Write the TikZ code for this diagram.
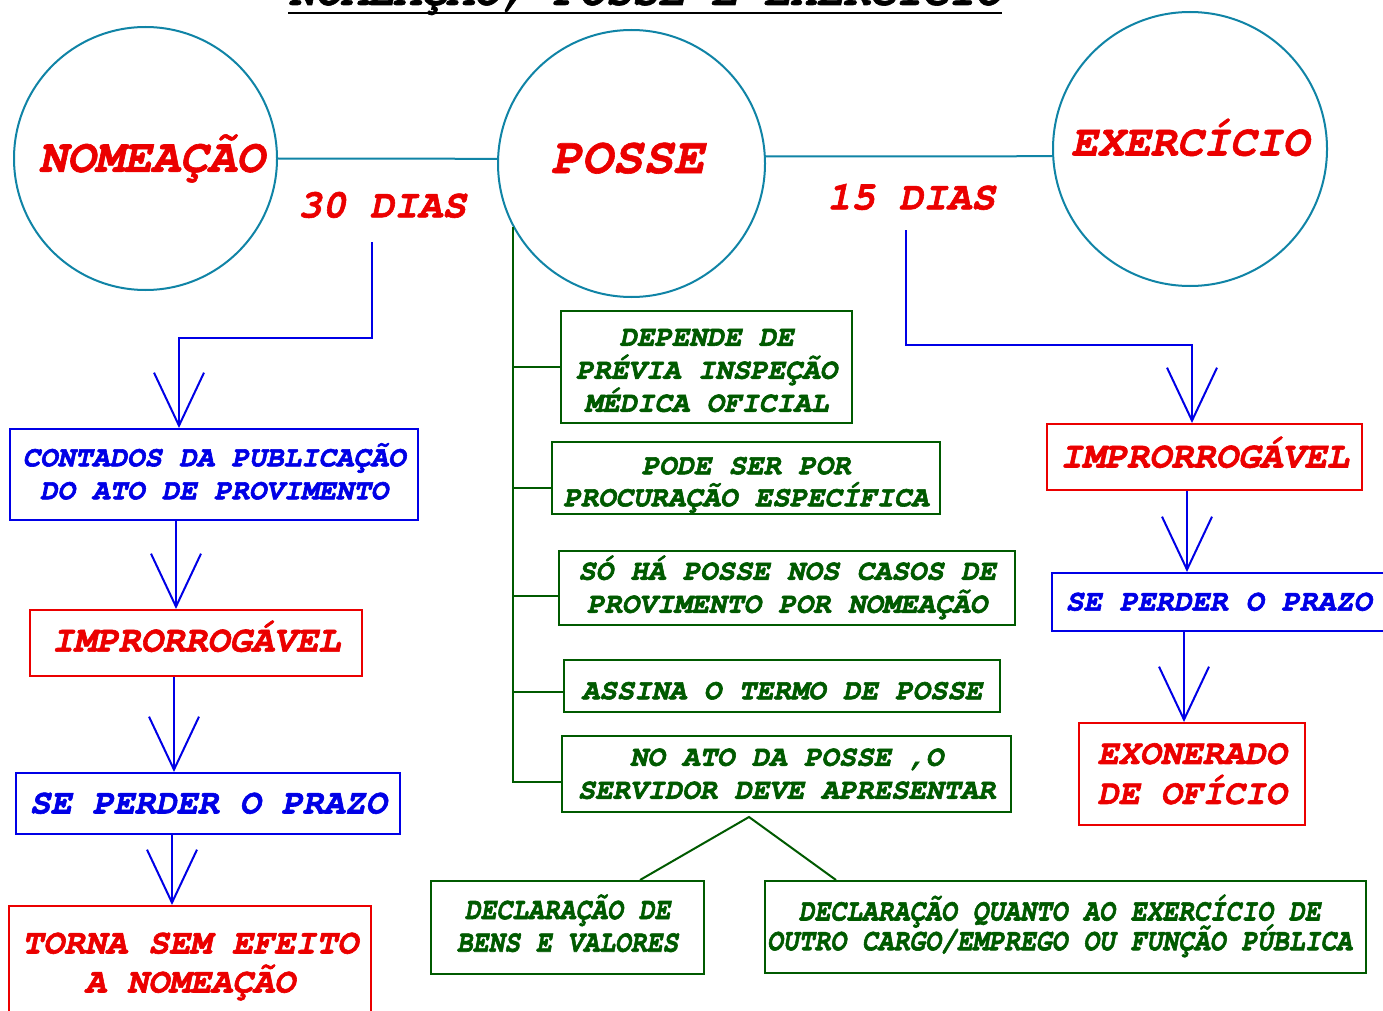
\documentclass[tikz,border=0pt]{standalone}
\usepackage[T1]{fontenc}
\usetikzlibrary{arrows.meta}
\definecolor{teal1}{RGB}{16,132,166}
\definecolor{red1}{RGB}{235,0,0}
\definecolor{blue1}{RGB}{0,0,230}
\definecolor{green1}{RGB}{0,90,0}
\newcommand\courbi{\fontencoding{T1}\fontfamily{pcr}\fontseries{b}\fontshape{sl}}
\newcommand\st{\rule[-0.26em]{0pt}{1.09em}}
\newcommand\stx[1]{\rule[-0.26em]{0pt}{\dimexpr1.09em+#1\relax}}
\newcommand\rs[2]{\raisebox{#1}[0.83em][0.26em]{#2}}
\tikzset{
  circ/.style={circle, draw=teal1, line width=2pt, inner sep=0pt},
  box/.style={draw, rectangle, line width=2pt, inner sep=0pt, align=center},
  f/.style args={#1/#2}{font=\courbi\fontsize{#1}{#2}\selectfont,
    execute at begin node={\special{pdf:literal direct 2 Tr 0.6 w}},
    execute at end node={\special{pdf:literal direct 0 Tr}}},
  varrow/.style={draw=blue1, line width=2pt, -{Straight Barb[length=53pt,width=50pt,line width=2pt]}},
  gline/.style={draw=green1, line width=2pt},
  redbox/.style={box, draw=red1, text=red1},
  bluebox/.style={box, draw=blue1, text=blue1},
  greenbox/.style={box, draw=green1, text=green1},
}
\begin{document}
\begin{tikzpicture}[x=1pt, y=-1pt]
\useasboundingbox (0,0) rectangle (1383,1011);
\clip (0,0) rectangle (1383,1011);
\fill[white] (0,0) rectangle (1383,1011);

% title
\node[f=44/44, anchor=base, inner sep=0pt] (title) at (645,5) {NOMEAÇÃO, POSSE E EXERCÍCIO};
\draw[line width=2pt] ([yshift=-8pt]title.base west) -- ([yshift=-8pt]title.base east);

% circles
\node[circ, minimum size=263pt, text=red1, f=47/50] (nom) at (145.5,158.5) {\hspace*{12pt}\st NOMEAÇÃO};
\node[circ, minimum size=267pt, text=red1, f=51/54] (pos) at (631.5,163.5) {\rs{5pt}{POSSE}\hspace*{8pt}};
\node[circ, minimum size=274pt, text=red1, f=44/48] (exe) at (1190,149) {\rs{6pt}{EXERCÍCIO}};
\draw[teal1, line width=2pt] (nom.0) -- (pos.178);
\draw[teal1, line width=2pt] (pos.3) -- (exe.183);

\node[text=red1, f=40/40] (d30) at (382,206) {\st 30 DIAS};
\node[text=red1, f=40/40] (d15) at (911,198) {\st 15 DIAS};

% left column
\coordinate (c30) at (372,242);
\node[bluebox, minimum width=408pt, minimum height=91pt, f=29/33] (cont) at (214,474.5) {\st CONTADOS DA PUBLICAÇÃO\\\st DO ATO DE PROVIMENTO};
\node[redbox, minimum width=332pt, minimum height=66pt, f=37/40] (imp1) at (196,643) {\rs{2pt}{IMPRORROGÁVEL}};
\node[bluebox, minimum width=384pt, minimum height=61pt, f=35/38] (per1) at (208,803.5) {\st SE PERDER O PRAZO};
\node[redbox, minimum width=362pt, minimum height=114pt, f=35/39] (tor) at (190,963) {\st TORNA SEM EFEITO\\\st A NOMEAÇÃO};

\draw[varrow] (c30) -- ++(0,96) -| ([xshift=-35pt]cont.north);
\draw[varrow] ([xshift=-38pt]cont.south) -- ([xshift=-38pt]cont.south |- imp1.north);
\draw[varrow] ([xshift=-22pt]imp1.south) -- ([xshift=-22pt]imp1.south |- per1.north);
\draw[varrow] ([xshift=-36pt]per1.south) -- ([xshift=-36pt]per1.south |- tor.north);

% middle column
\node[greenbox, minimum width=291pt, minimum height=112pt, f=29/33] (b1) at (706.5,367) {\stx{7pt}DEPENDE DE\\\st PRÉVIA INSPEÇÃO\\\st MÉDICA OFICIAL};
\node[greenbox, minimum width=388pt, minimum height=72pt, f=29/32] (b2) at (746,478) {\stx{8pt}PODE SER POR\\\st PROCURAÇÃO ESPECÍFICA};
\node[greenbox, minimum width=456pt, minimum height=74pt, f=29/33] (b3) at (787,588) {\st SÓ HÁ POSSE NOS CASOS DE\\\st PROVIMENTO POR NOMEAÇÃO};
\node[greenbox, minimum width=436pt, minimum height=52pt, f=29/33] (b4) at (782,686) {\rs{-5pt}{ASSINA O TERMO DE POSSE}};
\node[greenbox, minimum width=449pt, minimum height=76pt, f=29/33] (b5) at (786.5,774) {\st NO ATO DA POSSE ,O\\\st SERVIDOR DEVE APRESENTAR};
\node[greenbox, minimum width=273pt, minimum height=93pt, f=31/33] (bl) at (567.5,927.5) {\scalebox{0.85}[1]{\begin{tabular}{@{}c@{}}\st DECLARAÇÃO DE\\[-3pt]\st BENS E VALORES\end{tabular}}};
\node[greenbox, minimum width=601pt, minimum height=92pt, f=31/30] (br) at (1065.5,927) {\scalebox{0.85}[1]{\begin{tabular}{@{}c@{}}\st DECLARAÇÃO QUANTO AO EXERCÍCIO DE\\[-5pt]\st OUTRO CARGO/EMPREGO OU FUNÇÃO PÚBLICA\end{tabular}}\hspace*{12pt}};

\coordinate (trunk) at (pos.208);
\coordinate (p1) at (b1.west);
\coordinate (p2) at ([yshift=-10pt]b2.west);
\coordinate (p3) at ([yshift=-8pt]b3.west);
\coordinate (p4) at ([yshift=-6pt]b4.west);
\coordinate (p5) at ([yshift=-8pt]b5.west);
\draw[gline] (trunk) |- (p5);
\draw[gline] (trunk |- p1) -- (p1);
\draw[gline] (trunk |- p2) -- (p2);
\draw[gline] (trunk |- p3) -- (p3);
\draw[gline] (trunk |- p4) -- (p4);
\coordinate (apex) at ([xshift=-37.5pt,yshift=-4pt]b5.south);
\draw[gline] ([xshift=72.5pt]bl.north) -- (apex) -- ([xshift=-229.5pt]br.north);

% right column
\coordinate (c15) at (906,230);
\node[redbox, minimum width=315pt, minimum height=66pt, f=37/40] (impR) at (1204.5,457) {\st IMPRORROGÁVEL};
\node[bluebox, minimum width=333pt, minimum height=58pt, f=30/33] (perR) at (1218.5,602) {\st SE PERDER O PRAZO};
\node[redbox, minimum width=226pt, minimum height=102pt, f=35/40] (exo) at (1192,774) {\st EXONERADO\\\st DE OFÍCIO};

\draw[varrow] (c15) -- ++(0,115) -| ([xshift=-12.5pt]impR.north);
\draw[varrow] ([xshift=-17.5pt]impR.south) -- ([xshift=-17.5pt]impR.south |- perR.north);
\draw[varrow] ([xshift=-34.5pt]perR.south) -- ([xshift=-34.5pt]perR.south |- exo.north);
\end{tikzpicture}
\end{document}
